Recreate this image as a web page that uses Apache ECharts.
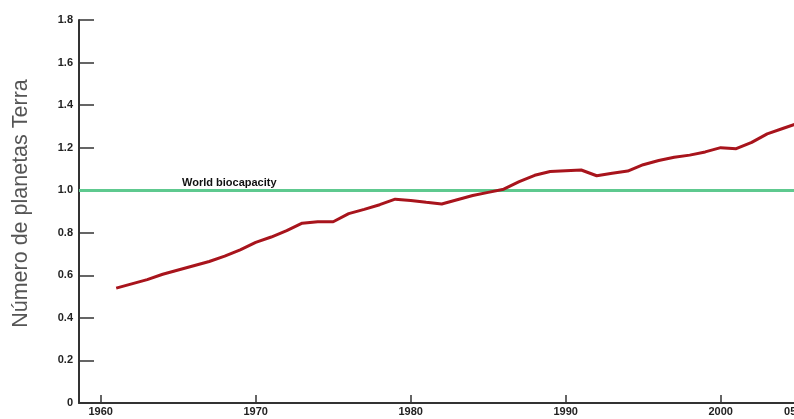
<!DOCTYPE html>
<html>
<head>
<meta charset="utf-8">
<script src="https://cdn.jsdelivr.net/npm/echarts@6/dist/echarts.min.js"></script>
<style>
html,body{margin:0;padding:0;background:#fff;}
#c{width:794px;height:419px;}
</style>
</head>
<body>
<div id="c"></div>
<script>
var years = [1961,1962,1963,1964,1965,1966,1967,1968,1969,1970,1971,1972,1973,1974,1975,1976,1977,1978,1979,1980,1981,1982,1983,1984,1985,1986,1987,1988,1989,1990,1991,1992,1993,1994,1995,1996,1997,1998,1999,2000,2001,2002,2003,2004,2005];
var footprint = [0.54,0.56,0.58,0.605,0.625,0.645,0.665,0.69,0.72,0.755,0.78,0.81,0.845,0.852,0.852,0.89,0.91,0.932,0.958,0.952,0.943,0.935,0.955,0.975,0.99,1.005,1.04,1.07,1.088,1.092,1.095,1.068,1.08,1.09,1.12,1.14,1.155,1.165,1.18,1.2,1.195,1.225,1.265,1.29,1.315];
var xTickValues = [1960,1970,1980,1990,2000,2010];
var xLabelValues = [1960,1970,1980,1990,2000,2005];
var xLabelTexts = ['1960','1970','1980','1990','2000','05'];
var biocapacity = 1.0;
var biocapacityLabel = 'World biocapacity';
var yTitle = 'Número de planetas Terra';

var chart = echarts.init(document.getElementById('c'));
var font = 'Liberation Sans, Arial, sans-serif';
chart.setOption({
  animation: false,
  grid: {left: 79, top: 20, right: -(79 + (2010 - 1958.6) * 15.5 - 794), bottom: 16, containLabel: false, outerBoundsMode: 'none'},
  xAxis: {
    type: 'value', min: 1958.6, max: 2010,
    splitLine: {show: false},
    axisLine: {lineStyle: {color: '#333', width: 2}},
    axisTick: {inside: true, length: 8, lineStyle: {color: '#333', width: 1.5}, customValues: xTickValues},
    axisLabel: {customValues: xLabelValues, color: '#222', fontSize: 11, fontWeight: 'bold', fontFamily: font, margin: 3,
      formatter: function(v){
        var i = xLabelValues.indexOf(v);
        var t = i >= 0 ? xLabelTexts[i] : String(v);
        return v === 2005 ? '{s|' + t + '}' : t;
      },
      rich: {s: {color: '#222', fontSize: 11, fontWeight: 'bold', fontFamily: font, padding: [0, 16, 0, 0]}}
    }
  },
  yAxis: {
    type: 'value', min: 0, max: 1.8, interval: 0.2,
    splitLine: {show: false},
    axisLine: {show: true, lineStyle: {color: '#333', width: 2}},
    axisTick: {show: true, inside: true, length: 15, lineStyle: {color: '#333', width: 1.5}},
    axisLabel: {color: '#222', fontSize: 11, fontWeight: 'bold', fontFamily: font, margin: 6,
      formatter: function(v){ return v === 0 ? '0' : v.toFixed(1); }},
    name: yTitle, nameLocation: 'middle', nameGap: 47,
    nameTextStyle: {color: '#555', fontSize: 21.5, fontFamily: font, padding: [0, 0, 0, 16]}
  },
  series: [{
    type: 'line',
    data: years.map(function(y, i){ return [y, footprint[i]]; }),
    symbol: 'none',
    lineStyle: {color: '#a8141c', width: 3},
    z: 3,
    markLine: {
      silent: true, symbol: 'none',
      lineStyle: {color: '#5ec98f', width: 3, type: 'solid'},
      label: {show: true, formatter: biocapacityLabel, position: 'insideStartTop', distance: [103, 2],
        color: '#111', fontSize: 11, fontWeight: 'bold', fontFamily: font},
      data: [{yAxis: biocapacity}],
      z: 2
    }
  }]
});
</script>
</body>
</html>
